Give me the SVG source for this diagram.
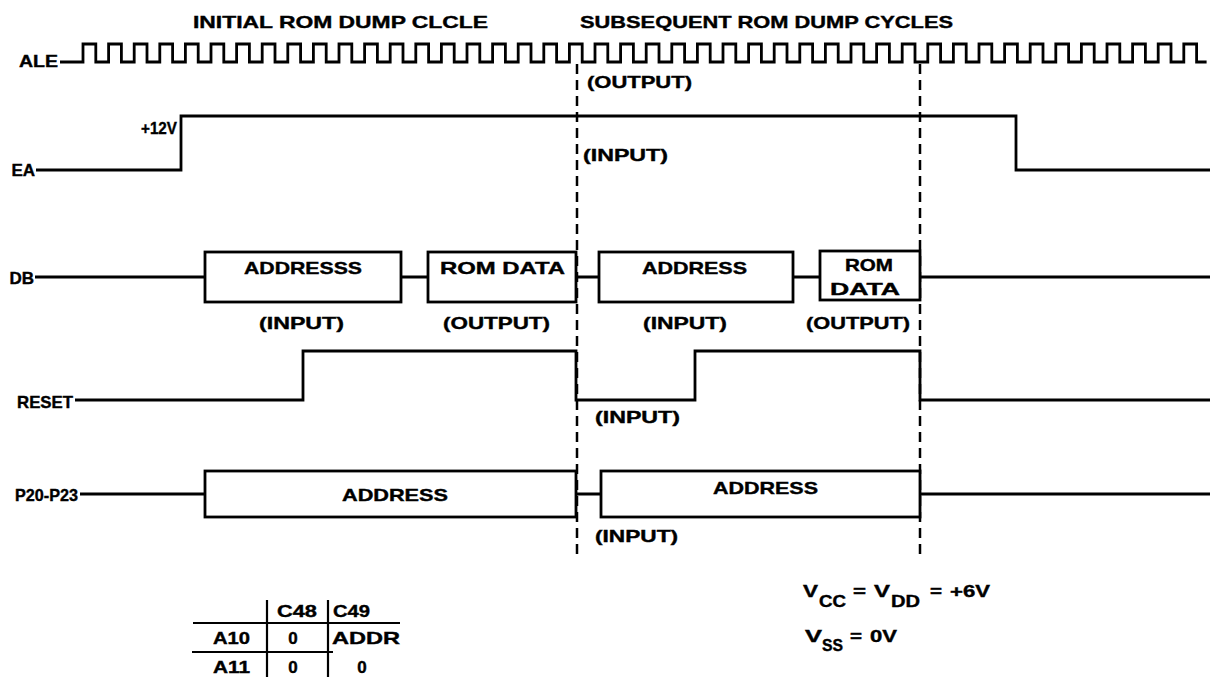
<svg xmlns="http://www.w3.org/2000/svg" width="1212" height="677" viewBox="0 0 1212 677">
<style>
text{font-family:"Liberation Sans",Arial,sans-serif;font-weight:bold;font-size:17px;fill:#000;stroke:#000;stroke-width:0.4}
.sig{fill:none;stroke:#000;stroke-width:2.8;stroke-linejoin:miter}
.box{fill:#fff;stroke:#000;stroke-width:2.8}
.dash{fill:none;stroke:#000;stroke-width:2.5;stroke-dasharray:10 6}
.tl{fill:none;stroke:#000;stroke-width:2.2}
.m{text-anchor:middle}
.e{text-anchor:end}
.sub{font-size:16px}
</style>
<rect width="1212" height="677" fill="#fff"/>
<g id="headings">
<text x="193" y="28" textLength="295" lengthAdjust="spacingAndGlyphs">INITIAL ROM DUMP CLCLE</text>
<text x="580" y="28" textLength="373" lengthAdjust="spacingAndGlyphs">SUBSEQUENT ROM DUMP CYCLES</text>
</g>
<g id="connectors">
<path class="dash" d="M577,64 V555 M920,64 V555"/>
</g>
<g id="ALE">
<text x="19" y="67" textLength="39" lengthAdjust="spacingAndGlyphs">ALE</text>
<path class="sig" d="M60,62 H83
v-18h12.8v18h12.8 v-18h12.8v18h12.8 v-18h12.8v18h12.8 v-18h12.8v18h12.8
v-18h12.8v18h12.8 v-18h12.8v18h12.8 v-18h12.8v18h12.8 v-18h12.8v18h12.8
v-18h12.8v18h12.8 v-18h12.8v18h12.8 v-18h12.8v18h12.8 v-18h12.8v18h12.8
v-18h12.8v18h12.8 v-18h12.8v18h12.8 v-18h12.8v18h12.8 v-18h12.8v18h12.8
v-18h12.8v18h12.8 v-18h12.8v18h12.8 v-18h12.8v18h12.8 v-18h12.8v18h12.8
v-18h12.8v18h12.8 v-18h12.8v18h12.8 v-18h12.8v18h12.8 v-18h12.8v18h12.8
v-18h12.8v18h12.8 v-18h12.8v18h12.8 v-18h12.8v18h12.8 v-18h12.8v18h12.8
v-18h12.8v18h12.8 v-18h12.8v18h12.8 v-18h12.8v18h12.8 v-18h12.8v18h12.8
v-18h12.8v18h12.8 v-18h12.8v18h12.8 v-18h12.8v18h12.8 v-18h12.8v18h12.8
v-18h12.8v18h12.8 v-18h12.8v18h12.8 v-18h12.8v18h12.8 v-18h12.8v18h12.8
v-18h12.8v18h12.8 v-18h12.8v18h12.8 v-18h12.8v18h12.8
v-18h12.8v18h10"/>
<text x="587" y="88" textLength="105" lengthAdjust="spacingAndGlyphs">(OUTPUT)</text>
</g>
<g id="EA">
<text class="e" x="35" y="176">EA</text>
<text x="141" y="134" textLength="36" lengthAdjust="spacingAndGlyphs">+12V</text>
<path class="sig" d="M36,170 H181 V116 H1016 V170 H1210"/>
<text x="583" y="161" textLength="85" lengthAdjust="spacingAndGlyphs">(INPUT)</text>
</g>
<g id="DB">
<text class="e" x="34" y="284">DB</text>
<path class="sig" d="M35,277 H205 M401,277 H428 M576,277 H599 M793,277 H820 M920,277 H1210"/>
<rect class="box" x="205" y="252" width="196" height="50"/>
<rect class="box" x="428" y="252" width="148" height="50"/>
<rect class="box" x="599" y="252" width="194" height="50"/>
<rect class="box" x="820" y="251" width="100" height="49"/>
<text x="244" y="274" textLength="118" lengthAdjust="spacingAndGlyphs">ADDRESSS</text>
<text x="440" y="274" textLength="125" lengthAdjust="spacingAndGlyphs">ROM DATA</text>
<text x="642" y="274" textLength="105" lengthAdjust="spacingAndGlyphs">ADDRESS</text>
<text x="845" y="271" textLength="48" lengthAdjust="spacingAndGlyphs">ROM</text>
<text x="830" y="295" textLength="70" lengthAdjust="spacingAndGlyphs">DATA</text>
<text x="259" y="329" textLength="85" lengthAdjust="spacingAndGlyphs">(INPUT)</text>
<text x="443" y="329" textLength="107" lengthAdjust="spacingAndGlyphs">(OUTPUT)</text>
<text x="643" y="329" textLength="84" lengthAdjust="spacingAndGlyphs">(INPUT)</text>
<text x="806" y="329" textLength="104" lengthAdjust="spacingAndGlyphs">(OUTPUT)</text>
</g>
<g id="RESET">
<text class="e" x="73" y="408" textLength="56" lengthAdjust="spacingAndGlyphs">RESET</text>
<path class="sig" d="M75,400 H303 V351 H576 V400 H695 V351 H920 V400 H1210"/>
<text x="595" y="423" textLength="85" lengthAdjust="spacingAndGlyphs">(INPUT)</text>
</g>
<g id="P20-P23">
<text class="e" x="78" y="501" textLength="63" lengthAdjust="spacingAndGlyphs">P20-P23</text>
<path class="sig" d="M80,494 H205 M576,494 H601 M920,494 H1210"/>
<rect class="box" x="205" y="471" width="371" height="46"/>
<rect class="box" x="601" y="471" width="319" height="46"/>
<text x="342" y="501" textLength="106" lengthAdjust="spacingAndGlyphs">ADDRESS</text>
<text x="713" y="494" textLength="105" lengthAdjust="spacingAndGlyphs">ADDRESS</text>
<text x="595" y="542" textLength="83" lengthAdjust="spacingAndGlyphs">(INPUT)</text>
</g>
<g id="table">
<path class="tl" d="M267,600 V677 M328,600 V677 M193,623 H400 M192,652 H333"/>
<text x="277" y="617" textLength="40" lengthAdjust="spacingAndGlyphs">C48</text>
<text x="333" y="617" textLength="37" lengthAdjust="spacingAndGlyphs">C49</text>
<text x="213" y="644" textLength="37" lengthAdjust="spacingAndGlyphs">A10</text>
<text class="m" x="293" y="644">0</text>
<text x="332" y="644" textLength="68" lengthAdjust="spacingAndGlyphs">ADDR</text>
<text x="213" y="673" textLength="37" lengthAdjust="spacingAndGlyphs">A11</text>
<text class="m" x="293" y="673">0</text>
<text class="m" x="362" y="673">0</text>
</g>
<g id="supply">
<text x="803" y="597" textLength="15" lengthAdjust="spacingAndGlyphs">V</text>
<text class="sub" x="819" y="607" textLength="27" lengthAdjust="spacingAndGlyphs">CC</text>
<text x="853" y="597" textLength="13" lengthAdjust="spacingAndGlyphs">=</text>
<text x="874" y="597" textLength="16" lengthAdjust="spacingAndGlyphs">V</text>
<text class="sub" x="891" y="607" textLength="29" lengthAdjust="spacingAndGlyphs">DD</text>
<text x="930" y="597" textLength="12" lengthAdjust="spacingAndGlyphs">=</text>
<text x="950" y="597" textLength="40" lengthAdjust="spacingAndGlyphs">+6V</text>
<text x="805" y="642" textLength="17" lengthAdjust="spacingAndGlyphs">V</text>
<text class="sub" x="822" y="651" textLength="21" lengthAdjust="spacingAndGlyphs">SS</text>
<text x="850" y="642" textLength="12" lengthAdjust="spacingAndGlyphs">=</text>
<text x="870" y="642" textLength="27" lengthAdjust="spacingAndGlyphs">0V</text>
</g>
</svg>
